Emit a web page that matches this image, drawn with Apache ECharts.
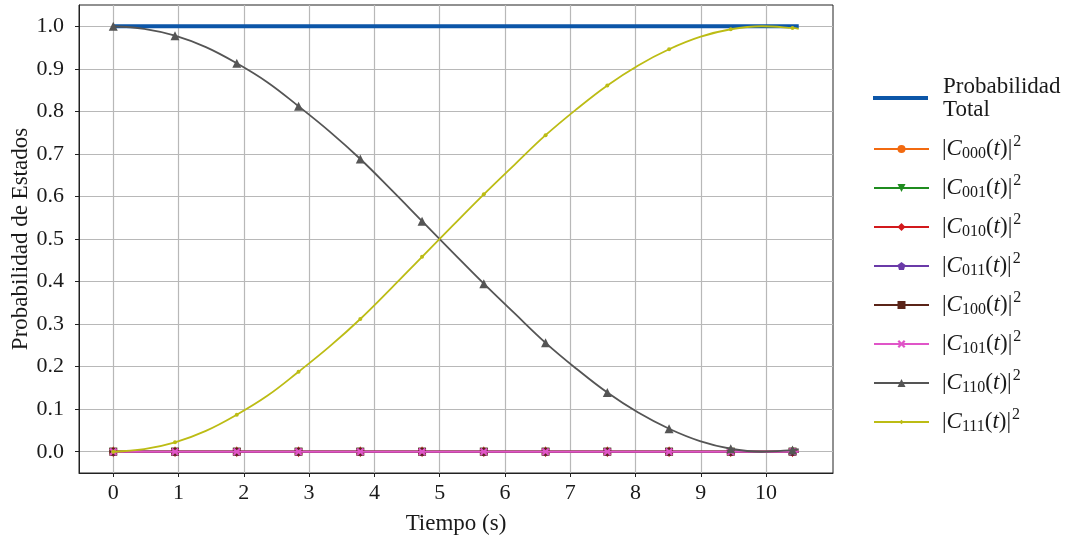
<!DOCTYPE html>
<html>
<head>
<meta charset="utf-8">
<script src="https://cdn.jsdelivr.net/npm/echarts@6/dist/echarts.min.js"></script>
<style>html,body{margin:0;padding:0;background:#fff;}#c{width:1076px;height:540px;}</style>
</head>
<body>
<div id="c"></div>
<script>
// ---- data ----
// sample times (s); every second sample carries a marker, the last one (10.5) is the end of the lines
const tiempo = [0, 0.473, 0.946, 1.419, 1.892, 2.365, 2.838, 3.311, 3.784, 4.257, 4.730, 5.203, 5.676,
                6.149, 6.622, 7.095, 7.568, 8.041, 8.514, 8.987, 9.459, 9.932, 10.405, 10.5];
const total = [1, 1, 1, 1, 1, 1, 1, 1, 1, 1, 1, 1, 1, 1, 1, 1, 1, 1, 1, 1, 1, 1, 1, 1];
const c000 = [0, 0, 0, 0, 0, 0, 0, 0, 0, 0, 0, 0, 0, 0, 0, 0, 0, 0, 0, 0, 0, 0, 0, 0];
const c001 = [0, 0, 0, 0, 0, 0, 0, 0, 0, 0, 0, 0, 0, 0, 0, 0, 0, 0, 0, 0, 0, 0, 0, 0];
const c010 = [0, 0, 0, 0, 0, 0, 0, 0, 0, 0, 0, 0, 0, 0, 0, 0, 0, 0, 0, 0, 0, 0, 0, 0];
const c011 = [0, 0, 0, 0, 0, 0, 0, 0, 0, 0, 0, 0, 0, 0, 0, 0, 0, 0, 0, 0, 0, 0, 0, 0];
const c100 = [0, 0, 0, 0, 0, 0, 0, 0, 0, 0, 0, 0, 0, 0, 0, 0, 0, 0, 0, 0, 0, 0, 0, 0];
const c101 = [0, 0, 0, 0, 0, 0, 0, 0, 0, 0, 0, 0, 0, 0, 0, 0, 0, 0, 0, 0, 0, 0, 0, 0];
const c110 = [1.000, 0.994, 0.978, 0.951, 0.913, 0.868, 0.812, 0.753, 0.688, 0.616, 0.542, 0.468, 0.395,
              0.325, 0.256, 0.195, 0.139, 0.092, 0.054, 0.025, 0.007, 0.000, 0.004, 0.006];
const c111 = [0.000, 0.006, 0.022, 0.049, 0.087, 0.132, 0.188, 0.247, 0.312, 0.384, 0.458, 0.532, 0.605,
              0.675, 0.744, 0.805, 0.861, 0.908, 0.946, 0.975, 0.993, 1.000, 0.996, 0.994];
const xTicks = [0, 1, 2, 3, 4, 5, 6, 7, 8, 9, 10];
const yTicks = [0, 0.1, 0.2, 0.3, 0.4, 0.5, 0.6, 0.7, 0.8, 0.9, 1.0];
const totalName = 'Probabilidad Total';
const stateNames = ['C000', 'C001', 'C010', 'C011', 'C100', 'C101', 'C110', 'C111'];

const FONT = '"Liberation Serif", "DejaVu Serif", serif';
const TXT = '#1a1a1a';

function pts(arr) {
  return tiempo.map((t, i) => {
    if (i % 2 === 1 || i === tiempo.length - 1) return { value: [t, arr[i]], symbol: 'none' };
    return [t, arr[i]];
  });
}

const styles = {
  C000: { color: '#f26a10', symbol: 'circle', size: 8 },
  C001: { color: '#1f8c1f', symbol: 'path://M0,0L10,0L5,9Z', size: 8 },
  C010: { color: '#d2191c', symbol: 'diamond', size: [6, 11] },
  C011: { color: '#6a3aa8', symbol: 'path://M5,0L10,3.8L8.1,10L1.9,10L0,3.8Z', size: 8 },
  C100: { color: '#5a2418', symbol: 'rect', size: 8 },
  C101: { color: '#e055c8', symbol: 'path://M2,0L5,3L8,0L10,2L7,5L10,8L8,10L5,7L2,10L0,8L3,5L0,2Z', size: 8 },
  C110: { color: '#555555', symbol: 'triangle', size: 9 },
  C111: { color: '#bcbc14', symbol: 'circle', size: 4 }
};
const stateData = { C000: c000, C001: c001, C010: c010, C011: c011, C100: c100, C101: c101, C110: c110, C111: c111 };

const series = [{
  name: totalName, type: 'line', data: pts(total), showSymbol: false, symbol: 'none',
  lineStyle: { color: '#0c56a8', width: 4 }, itemStyle: { color: '#0c56a8' }, z: 1
}];
stateNames.forEach((n, k) => {
  const s = styles[n];
  series.push({
    name: n, type: 'line', data: pts(stateData[n]), smooth: 0.4,
    symbol: s.symbol, symbolSize: s.size, showSymbol: true,
    lineStyle: { color: s.color, width: (n === 'C110' || n === 'C111') ? 1.8 : 2 },
    itemStyle: { color: s.color }, z: 2 + k
  });
});

const LF = 23;
const rich = {
  b: { fontFamily: FONT, fontSize: LF, color: TXT, lineHeight: 28 },
  p: { fontFamily: FONT, fontSize: LF, color: TXT, lineHeight: 28, padding: [0, 0, 0, 8] },
  i: { fontFamily: FONT, fontSize: LF, color: TXT, fontStyle: 'italic', lineHeight: 28 },
  sub: { fontFamily: FONT, fontSize: 16, color: TXT, padding: [10, 0, 0, 0] },
  sup: { fontFamily: FONT, fontSize: 16, color: TXT, padding: [0, 0, 14, 1] }
};

const legendData = stateNames.map(n => n === 'C111'
  ? { name: n, icon: 'path://M0,4.1L54,4.1L54,5.9L0,5.9Z M27,2.8L29.2,5L27,7.2L24.8,5Z' }
  : { name: n });

const option = {
  animation: false,
  backgroundColor: '#ffffff',
  grid: { left: 79, right: 243, top: 5, bottom: 67, show: true, borderColor: '#222', borderWidth: 1,
          backgroundColor: 'transparent', outerBoundsMode: 'none', containLabel: false },
  xAxis: {
    type: 'value', min: -0.525, max: 11.025,
    name: 'Tiempo (s)', nameLocation: 'middle', nameGap: 39,
    nameTextStyle: { fontFamily: FONT, fontSize: 23, color: TXT },
    axisLine: { onZero: false, lineStyle: { color: '#222', width: 1 } },
    axisTick: { show: true, length: 4, customValues: xTicks, lineStyle: { color: '#222' } },
    axisLabel: { customValues: xTicks, fontFamily: FONT, fontSize: 22, color: TXT, margin: 9, formatter: v => String(Math.round(v)) },
    splitLine: { show: true, lineStyle: { color: '#b8b8b8', width: 1.2 } }
  },
  yAxis: {
    type: 'value', min: -0.05, max: 1.05,
    name: 'Probabilidad de Estados', nameLocation: 'middle', nameGap: 47, nameRotate: 90, nameMoveOverlap: false,
    nameTextStyle: { fontFamily: FONT, fontSize: 23, color: TXT },
    axisLine: { onZero: false, lineStyle: { color: '#222', width: 1 } },
    axisTick: { show: true, length: 4, customValues: yTicks, lineStyle: { color: '#222' } },
    axisLabel: { customValues: yTicks, fontFamily: FONT, fontSize: 22, color: TXT, margin: 15, formatter: v => v.toFixed(1) },
    splitLine: { show: true, lineStyle: { color: '#b8b8b8', width: 1.2 } }
  },
  legend: [{
    data: [totalName], orient: 'vertical', left: 868, top: 70, itemWidth: 55, itemHeight: 4,
    icon: 'rect',
    formatter: () => '{p|Probabilidad}\n{p|Total}',
    textStyle: { rich: { p: { fontFamily: FONT, fontSize: LF, color: TXT, lineHeight: 23, padding: [0, 0, 0, 10] } } },
    itemStyle: { color: '#0c56a8' }
  }, {
    data: legendData, orient: 'vertical', left: 868, top: 129, itemWidth: 55, itemHeight: 10, itemGap: 11,
    formatter: n => '{p||}{i|C}{sub|' + n.slice(1) + '}{b|(}{i|t}{b|)|}{sup|2}',
    textStyle: { rich: rich }
  }],
  series: series
};

const chart = echarts.init(document.getElementById('c'), null, { renderer: 'canvas' });
chart.setOption(option);
</script>
</body>
</html>
